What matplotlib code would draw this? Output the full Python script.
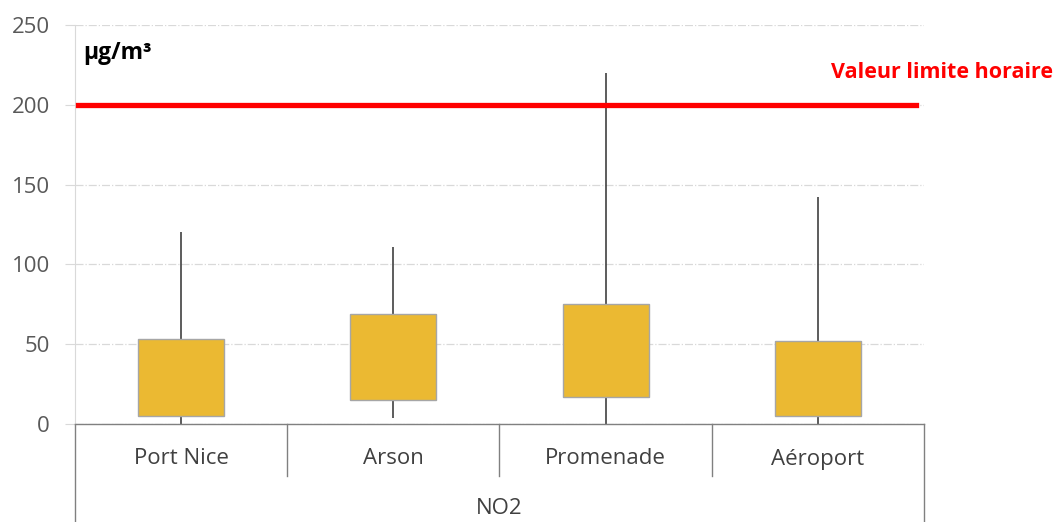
import matplotlib
matplotlib.use("Agg")
import matplotlib.pyplot as plt
from matplotlib.lines import Line2D

plt.rcParams['font.family'] = ['Open Sans', 'DejaVu Sans']

stations = ["Port Nice", "Arson", "Promenade", "Aéroport"]
group_label = "NO2"
q_low = [5, 15, 17, 5]
q_high = [53, 69, 75, 52]
v_min = [0, 4, 0, 0]
v_max = [120, 111, 220, 142]
limit_value = 200
limit_label = "Valeur limite horaire"
unit_label = "µg/m³"
y_ticks = [0, 50, 100, 150, 200, 250]

fig = plt.figure(figsize=(10.55, 5.22), dpi=100)
ax = fig.add_axes([75/1055, 1-424/522, 849/1055, 399/522])

x = list(range(len(stations)))
ax.vlines(x, v_min, v_max, color='#303030', lw=1.1, zorder=2)
ax.bar(x, [h - l for h, l in zip(q_high, q_low)], bottom=q_low, width=0.405,
       color='#EBB932', edgecolor='#A6A6A6', linewidth=1.0, zorder=3)

ax.axhline(limit_value, xmin=0.004, xmax=0.99, color='#FF0000', lw=3.8, zorder=4)
fig.text(1053/1055, 1-72/522, limit_label, color='#FF0000', fontweight='bold',
         fontsize=15.5, ha='right', va='center')
ax.text(0.01, 0.96, unit_label, transform=ax.transAxes, fontweight='bold',
        fontsize=16.5, ha='left', va='top', color='black')

ax.set_xlim(-0.5, len(stations) - 0.5)
ax.set_ylim(0, 250)
ax.set_yticks(y_ticks)
ax.tick_params(axis='y', length=7, color='#D9D9D9', pad=11, labelsize=16, labelcolor='#595959')
ax.set_xticks([])
ax.grid(axis='y', color='#D9D9D9', linestyle='-.', lw=0.9, zorder=0)
ax.set_axisbelow(True)

for s in ['top', 'right']:
    ax.spines[s].set_visible(False)
ax.spines['left'].set_color('#D9D9D9')
ax.spines['bottom'].set_color('#808080')
ax.spines['bottom'].set_linewidth(1.0)

# multi-level category axis
trans = ax.get_xaxis_transform()
ax_h = 399
def yfrac(px):
    return -(px - 424) / ax_h
for b in [-0.5, len(stations) - 0.5]:
    ax.add_line(Line2D([b, b], [0, yfrac(522)], transform=trans, color='#808080', lw=1.0, clip_on=False))
for b in range(1, len(stations)):
    ax.add_line(Line2D([b - 0.5, b - 0.5], [0, yfrac(476)], transform=trans, color='#808080', lw=1.0, clip_on=False))
for i, s in enumerate(stations):
    ax.text(i, yfrac(459), s, transform=trans, ha='center', va='center', fontsize=16, color='#404040')
ax.text((len(stations) - 1) / 2, yfrac(509), group_label, transform=trans, ha='center', va='center',
        fontsize=16, color='#404040')

fig.savefig("out.png", dpi=100)
